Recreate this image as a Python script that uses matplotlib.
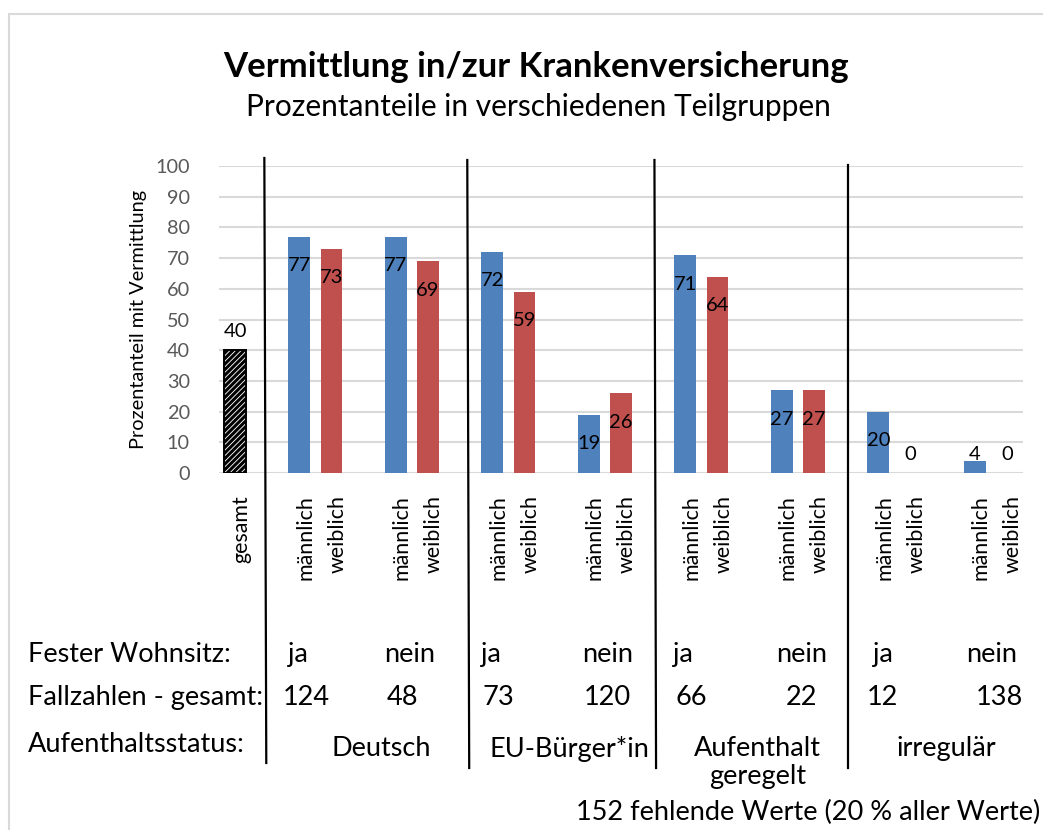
import matplotlib
matplotlib.use("Agg")
import matplotlib.pyplot as plt
import matplotlib.transforms as mtransforms
from matplotlib.lines import Line2D
from matplotlib.patches import Rectangle

plt.rcParams['font.family'] = ['Lato', 'DejaVu Sans']
plt.rcParams['hatch.linewidth'] = 2.2

# ---- data ----
categories = ["gesamt",
              "männlich", "weiblich", "männlich", "weiblich",
              "männlich", "weiblich", "männlich", "weiblich",
              "männlich", "weiblich", "männlich", "weiblich",
              "männlich", "weiblich", "männlich", "weiblich"]
values = [40, 77, 73, 77, 69, 72, 59, 19, 26, 71, 64, 27, 27, 20, 0, 4, 0]
sex = ["gesamt", "m", "w", "m", "w", "m", "w", "m", "w",
       "m", "w", "m", "w", "m", "w", "m", "w"]
slots = [0, 2, 3, 5, 6, 8, 9, 11, 12, 14, 15, 17, 18, 20, 21, 23, 24]

wohnsitz = ["ja", "nein", "ja", "nein", "ja", "nein", "ja", "nein"]
fallzahlen = ["124", "48", "73", "120", "66", "22", "12", "138"]
status = ["Deutsch", "EU-Bürger*in", "Aufenthalt\ngeregelt", "irregulär"]
yticks = [0, 10, 20, 30, 40, 50, 60, 70, 80, 90, 100]

title = "Vermittlung in/zur Krankenversicherung"
subtitle = "Prozentanteile in verschiedenen Teilgruppen"
ylabel = "Prozentanteil mit Vermittlung"
footnote = "152 fehlende Werte (20 % aller Werte)"

# ---- style ----
BLUE = "#4F81BD"
RED = "#C0504D"
W, H = 1043, 830
fig = plt.figure(figsize=(W / 100, H / 100), dpi=100)
ax = fig.add_axes([219 / W, 1 - 473 / H, (1023 - 219) / W, (473 - 166) / H])

LBL = 14.5
for s, v, kind in zip(slots, values, sex):
    if kind == "gesamt":
        ax.bar(s, v, width=0.68, color="white", edgecolor="black", hatch="//////",
               linewidth=1.4, zorder=3)
    else:
        ax.bar(s, v, width=0.68, color=BLUE if kind == "m" else RED, zorder=3)
    # data labels
    if kind == "gesamt":
        ax.annotate(str(v), (s, v), xytext=(0, 19), textcoords="offset pixels",
                    ha="center", va="center", fontsize=LBL, zorder=4)
    elif v < 10:
        ax.annotate(str(v), (s, 0), xytext=(0, 19), textcoords="offset pixels",
                    ha="center", va="center", fontsize=LBL, zorder=4)
    else:
        ax.annotate(str(v), (s, v), xytext=(0, -29), textcoords="offset pixels",
                    ha="center", va="center", fontsize=LBL, zorder=4)

ax.set_xlim(-0.5, 24.5)
ax.set_ylim(0, 100)
ax.set_yticks(yticks)
ax.set_yticklabels([str(t) for t in yticks], color="#595959", fontsize=14.3)
ax.yaxis.grid(True, color="#d9d9d9", linewidth=1.5, zorder=0)
ax.set_axisbelow(True)
ax.tick_params(axis="both", length=0)
ax.tick_params(axis="y", pad=21)
for sp in ax.spines.values():
    sp.set_visible(False)

ax.set_xticks(slots)
ax.set_xticklabels(categories, rotation=90, va="top", ha="center", fontsize=15.4)
ax.tick_params(axis="x", pad=16)
off = mtransforms.ScaledTranslation(6 / 100, 0, fig.dpi_scale_trans)
for lbl in ax.get_xticklabels():
    lbl.set_transform(lbl.get_transform() + off)

ax.set_ylabel(ylabel, fontsize=14.4)
ax.yaxis.set_label_coords(-(219 - 147) / (1023 - 219), 0.5)

# title
fig.text(536 / W, 1 - 67 / H, title, ha="center", va="center",
         fontsize=25, fontweight="bold")
fig.text(538 / W, 1 - 107 / H, subtitle, ha="center", va="center", fontsize=21.5)

# separators (x in data, y in figure)
blend = mtransforms.blended_transform_factory(ax.transData, fig.transFigure)
sep_x = [(0.91, 0.97), (7.22, 7.28), (13.04, 13.09), (19.05, 19.05)]
sep_y = [(158, 763), (160, 768), (160, 768), (165, 768)]
for (xt, xb), (yt, yb) in zip(sep_x, sep_y):
    fig.add_artist(Line2D([xt, xb], [1 - yt / H, 1 - yb / H], color="black",
                          linewidth=1.6, transform=blend))

# table below
row_y = [654, 697, 745]
fs = 19.5
fig.text(28 / W, 1 - row_y[0] / H, "Fester Wohnsitz:", ha="left", va="center", fontsize=fs)
fig.text(28 / W, 1 - row_y[1] / H, "Fallzahlen - gesamt:", ha="left", va="center", fontsize=fs)
fig.text(28 / W, 1 - row_y[2] / H, "Aufenthaltsstatus:", ha="left", va="center", fontsize=fs)

ws_x = [1.94, 5.42, 7.97, 11.58, 13.92, 17.62, 20.14, 23.53]
fz_x = [2.22, 5.2, 8.2, 11.58, 14.17, 17.6, 20.14, 23.78]
st_x = [4.56, 10.4, 16.25, 22.1]
for x, t in zip(ws_x, wohnsitz):
    ax.text(x, 1 - row_y[0] / H, t, transform=blend, ha="center", va="center", fontsize=fs)
for x, t in zip(fz_x, fallzahlen):
    ax.text(x, 1 - row_y[1] / H, t, transform=blend, ha="center", va="center", fontsize=fs)
for x, t in zip(st_x, status):
    ax.text(x, 1 - (row_y[2] - 9) / H, t, transform=blend, ha="center", va="top",
            fontsize=fs, linespacing=1.15)

fig.text(1040 / W, 1 - 812 / H, footnote, ha="right", va="center", fontsize=fs)

# outer border
fig.add_artist(Rectangle((9 / W, -0.05), 1.1, 1 - 14 / H + 0.05, transform=fig.transFigure,
                         fill=False, edgecolor="#d9d9d9", linewidth=1.5))

fig.savefig("out.png", dpi=100)
